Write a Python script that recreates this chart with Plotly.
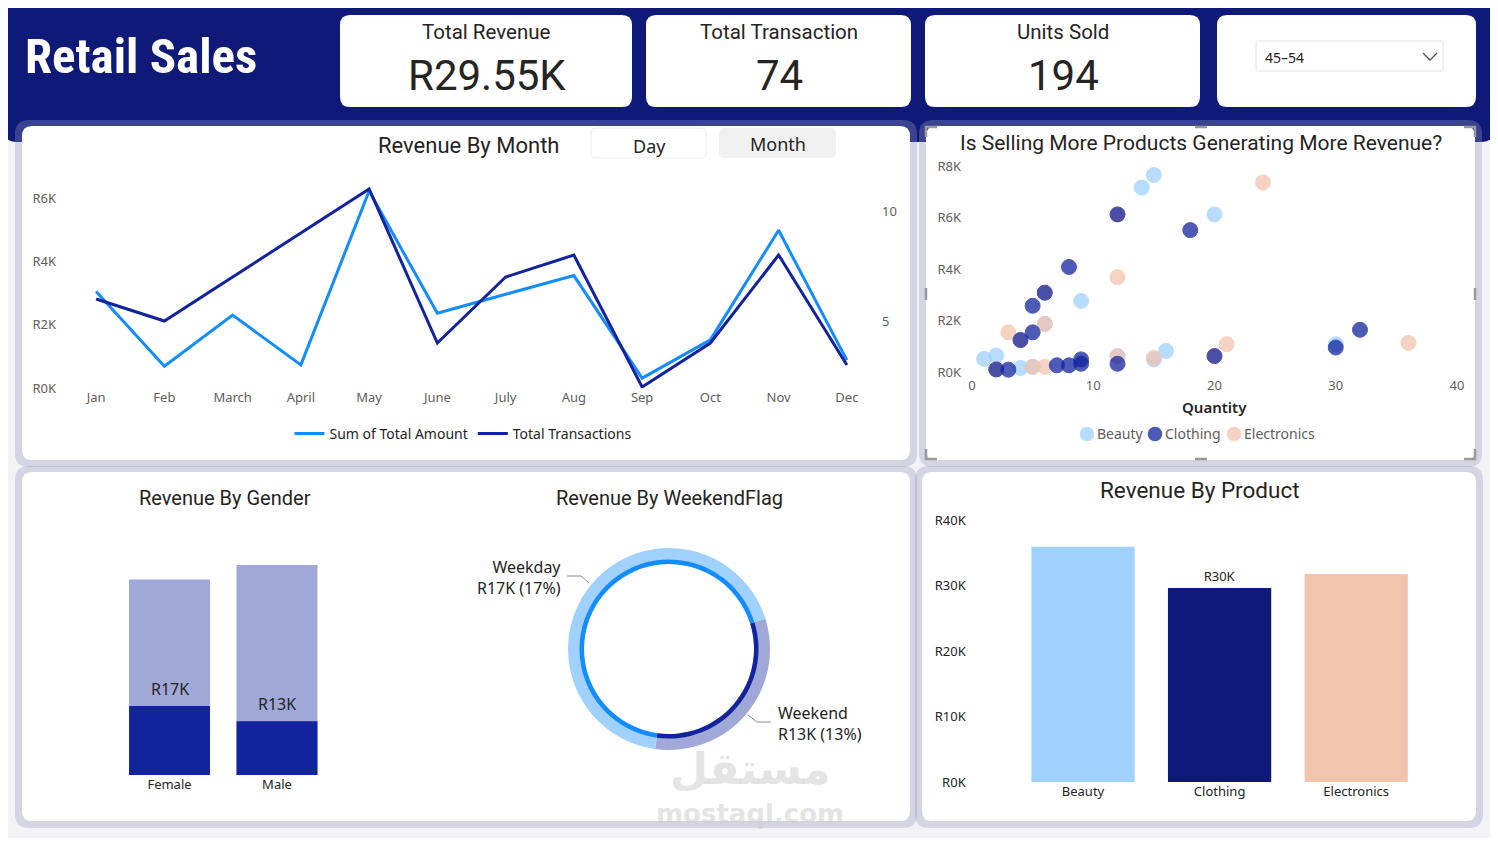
import plotly.graph_objects as go

# ---- data ----
months = ["Jan", "Feb", "March", "April", "May", "June",
          "July", "Aug", "Sep", "Oct", "Nov", "Dec"]
month_amount = [3050, 690, 2300, 730, 6220, 2360, 2960, 3550, 310, 1520, 4980, 880]
month_transactions = [6, 5, 7, 9, 11, 4, 7, 8, 2, 4, 8, 3]
units_sold = 194
age_group = "45–54"

beauty_qty = [15, 14, 20, 9, 16, 1, 2, 4, 30, 15, 6, 12, 5]
beauty_rev = [7650, 7160, 6120, 2760, 820, 510, 640, 160, 1080, 490, 1870, 620, 200]
clothing_qty = [18, 8, 5, 5, 32, 30, 12, 9, 9, 8, 7, 3, 12, 6, 4, 2, 20]
clothing_rev = [5510, 4080, 2570, 1540, 1640, 950, 320, 490, 320, 260, 260, 90, 6120, 3080, 1240, 100, 620]
electronics_qty = [24, 12, 3, 21, 36, 5, 6, 15, 6, 12, 12, 6, 4, 2, 20]
electronics_rev = [7360, 3680, 1540, 1080, 1130, 200, 200, 550, 1870, 620, 6120, 3080, 1240, 100, 620]

genders = ["Female", "Male"]
gender_total = [47000, 50500]
gender_selected = [16600, 12950]

weekend_flags = ["Weekend", "Weekday"]
weekend_total = [31200, 66200]
weekend_selected = [12950, 16600]

products = ["Beauty", "Clothing", "Electronics"]
product_revenue = [35900, 29600, 31750]

# ---- page geometry (pixels of the 1498x846 page; body keeps its 8px margin) ----
OFF = 8
W, H = 1498 - 2 * OFF, 846 - 2 * OFF
NAVY = "#0f1a78"
BLUE = "#118DFF"
DARK = "#12239E"
TXT = "#252423"
GREY = "#605e5c"
TITLE_FONT = "Roboto"
UI_FONT = "Noto Sans"
product_colors = {"Beauty": "#A0D1FF", "Clothing": DARK, "Electronics": "#F4C3AE"}


def X(x):
    return (x - OFF) / W


def Y(y):
    return 1 - (y - OFF) / H


def rrect(x0, y0, x1, y1, r):
    """Rounded rectangle path in paper coords from pixel box."""
    return (f"M {X(x0 + r)},{Y(y0)} L {X(x1 - r)},{Y(y0)} Q {X(x1)},{Y(y0)} {X(x1)},{Y(y0 + r)} "
            f"L {X(x1)},{Y(y1 - r)} Q {X(x1)},{Y(y1)} {X(x1 - r)},{Y(y1)} "
            f"L {X(x0 + r)},{Y(y1)} Q {X(x0)},{Y(y1)} {X(x0)},{Y(y1 - r)} "
            f"L {X(x0)},{Y(y0 + r)} Q {X(x0)},{Y(y0)} {X(x0 + r)},{Y(y0)} Z")


shapes = []
annotations = []


def box(x0, y0, x1, y1, r, fill, line=None, lw=0):
    shapes.append(dict(type="path", path=rrect(x0, y0, x1, y1, r), xref="paper", yref="paper",
                       fillcolor=fill, line=dict(color=line or fill, width=lw), layer="below"))


def seg(points, color, width=1):
    path = "M " + " L ".join(f"{X(a)},{Y(b)}" for a, b in points)
    shapes.append(dict(type="path", path=path, xref="paper", yref="paper",
                       line=dict(color=color, width=width)))


def label(text, x, y, size, color=TXT, family=UI_FONT, xanchor="center", weight=None, align="center"):
    font = dict(size=size, color=color, family=family)
    if weight:
        font["weight"] = weight
    annotations.append(dict(text=text, x=X(x), y=Y(y), xref="paper", yref="paper", align=align,
                            xanchor=xanchor, yanchor="middle", showarrow=False, font=font))


# header band and panel shadows
box(4, 4, 1494, 142, 12, NAVY)
for (a, b, c, d) in [(22, 126, 910, 460), (926, 126, 1475, 460), (22, 472, 910, 821), (922, 472, 1476, 821)]:
    box(a - 7, b - 6, c + 7, d + 7, 14, "rgba(150,150,190,0.33)")
    box(a, b, c, d, 10, "white")

# KPI cards
cards = [(340, 632), (646, 911), (925, 1200), (1217, 1476)]
for a, c in cards:
    box(a, 15, c, 107, 10, "white")

label("<b>Retail Sales</b>", 23, 56, 49, "white", "Liberation Sans Narrow, Roboto Condensed, Roboto", "left")
kpis = [("Total Revenue", f"R{sum(month_amount) / 1000:.2f}K"),
        ("Total Transaction", f"{sum(month_transactions)}"),
        ("Units Sold", f"{units_sold}")]
for (a, c), (name, val) in zip(cards, kpis):
    label(name, (a + c) / 2, 32, 20.5, TXT, TITLE_FONT)
    label(val, (a + c) / 2 + 1, 76, 42, TXT, TITLE_FONT)

# slicer dropdown
box(1256, 41, 1443, 71, 1, "white", "#e3e3e3", 1)
label(age_group, 1263, 58, 14, TXT, UI_FONT, "left")
seg([(1423, 53), (1430, 60), (1437, 53)], "#555", 1.3)

# line chart header
label("Revenue By Month", 468, 145, 22, TXT, TITLE_FONT)
box(591, 128, 706, 158, 5, "white", "#ececec", 1)
box(719, 128, 836, 158, 5, "#f1f1f1")
label("Day", 649, 146, 18, TXT, UI_FONT)
label("Month", 778, 144, 18, TXT, UI_FONT)

# scatter panel selection marks
for pts in [[(926, 137), (926, 127), (937, 127)], [(1464, 127), (1475, 127), (1475, 137)],
            [(926, 449), (926, 459), (937, 459)], [(1464, 459), (1475, 459), (1475, 449)],
            [(1195, 127), (1207, 127)], [(1195, 459), (1207, 459)],
            [(926, 288), (926, 300)], [(1475, 288), (1475, 300)]]:
    seg(pts, "#9a9a9a", 2.5)
label("Is Selling More Products Generating More Revenue?", 1201, 143, 21, TXT, TITLE_FONT)
label("Quantity", 1214, 407, 15, TXT, UI_FONT, weight=600)

# scatter legend (compact, Power BI style)
legend_pos = {"Beauty": 1087, "Clothing": 1155, "Electronics": 1234}
for name, lx in legend_pos.items():
    col = product_colors[name]
    shapes.append(dict(type="circle", xref="paper", yref="paper", x0=X(lx - 6.5), x1=X(lx + 6.5),
                       y0=Y(434 + 6.5), y1=Y(434 - 6.5), fillcolor=col, opacity=0.75,
                       line=dict(color=col, width=1.5)))
    label(name, lx + 8, 434, 14, GREY, UI_FONT, "left")

# bottom titles
label("Revenue By Gender", 225, 498, 20, TXT, TITLE_FONT)
label("Revenue By WeekendFlag", 669, 498, 20, TXT, TITLE_FONT)
label("Revenue By Product", 1200, 490, 22.5, TXT, TITLE_FONT)

fig = go.Figure()

# ---- line chart ----
fig.add_trace(go.Scatter(x=months, y=month_amount, mode="lines", name="Sum of Total Amount",
                         line=dict(color=BLUE, width=3), xaxis="x", yaxis="y"))
fig.add_trace(go.Scatter(x=months, y=month_transactions, mode="lines", name="Total Transactions",
                         line=dict(color=DARK, width=3), xaxis="x", yaxis="y2"))

# ---- scatter ----
for name, qx, rv in [("Beauty", beauty_qty, beauty_rev),
                     ("Electronics", electronics_qty, electronics_rev),
                     ("Clothing", clothing_qty, clothing_rev)]:
    col = product_colors[name]
    fig.add_trace(go.Scatter(x=qx, y=rv, mode="markers", name=name, showlegend=False,
                             marker=dict(size=15, color=col, opacity=0.75, line=dict(color=col, width=1)),
                             cliponaxis=False, xaxis="x3", yaxis="y3"))

# ---- gender bars (faded total with highlighted part) ----
fig.add_trace(go.Bar(x=genders, y=gender_total, width=0.753, marker=dict(color="#a0a8d8", line=dict(width=0)),
                     showlegend=False, xaxis="x4", yaxis="y4"))
fig.add_trace(go.Bar(x=genders, y=gender_selected, width=0.753, marker=dict(color="#12239E", line=dict(width=0)),
                     showlegend=False, xaxis="x4", yaxis="y4"))
for g, v in zip(genders, gender_selected):
    annotations.append(dict(x=g, y=v, xref="x4", yref="y4", yshift=17, showarrow=False,
                            text=f"R{round(v / 1000)}K", font=dict(size=16, color=TXT, family=UI_FONT)))

# ---- donut ----
cx, cy = 669, 649
fig.add_trace(go.Pie(labels=weekend_flags, values=weekend_total, sort=False, direction="clockwise",
                     rotation=72.6, hole=85 / 101, textinfo="none", hoverinfo="label+value",
                     marker=dict(colors=["#a0a8d8", "#A0D1FF"], line=dict(width=0)), showlegend=False,
                     domain=dict(x=[X(cx - 101), X(cx + 101)], y=[Y(cy + 101), Y(cy - 101)])))
fig.add_trace(go.Pie(labels=weekend_flags, values=weekend_total, sort=False, direction="clockwise",
                     rotation=72.6, hole=85 / 89.5, textinfo="none", hoverinfo="skip",
                     marker=dict(colors=[DARK, BLUE], line=dict(width=0)), showlegend=False,
                     domain=dict(x=[X(cx - 89.5), X(cx + 89.5)], y=[Y(cy + 89.5), Y(cy - 89.5)])))
grand = sum(weekend_total)
wk_txt = {f: f"{f}<br>R{round(v / 1000)}K ({round(v / grand * 100)}%)" for f, v in zip(weekend_flags, weekend_selected)}
label(wk_txt["Weekday"], 563, 577, 16, TXT, UI_FONT, "right", align="right")
label(wk_txt["Weekend"], 776, 723, 16, TXT, UI_FONT, "left", align="left")
seg([(567, 576), (581, 576), (589, 583)], "#8a8a8a", 1)
seg([(748, 715), (757, 722), (771, 722)], "#8a8a8a", 1)

# ---- product bars ----
fig.add_trace(go.Bar(x=products, y=product_revenue, width=0.756,
                     marker=dict(color=["#A0D1FF", "#0f1a78", "#F2C4AE"], line=dict(width=0)),
                     text=["" if p != "Clothing" else f"R{round(v / 1000)}K" for p, v in zip(products, product_revenue)],
                     textposition="outside", textfont=dict(size=13, color=TXT, family=UI_FONT),
                     cliponaxis=False, showlegend=False, xaxis="x5", yaxis="y5"))

# watermark
label("<span style='font-size:44px'><b>مستقل</b></span><br><span style='font-size:26px'><b>mostaql.com</b></span>",
      750, 786, 30, "rgba(205,205,205,0.55)", "DejaVu Sans")

tick = dict(size=13, color=GREY, family=UI_FONT)
plain = dict(showgrid=False, zeroline=False, showline=False, ticks="")

fig.update_layout(
    width=W, height=H, margin=dict(l=0, r=0, t=0, b=0, autoexpand=False),
    paper_bgcolor="#f3f3f5", plot_bgcolor="rgba(0,0,0,0)",
    barmode="overlay", shapes=shapes, annotations=annotations,
    xaxis=dict(domain=[X(62), X(881)], type="category", range=[-0.5, 11.5], tickfont=tick, anchor="y", **plain),
    yaxis=dict(domain=[Y(388), Y(175)], range=[0, 6726], tickvals=[0, 2000, 4000, 6000],
               ticktext=["R0K", "R2K", "R4K", "R6K"], ticklabelstandoff=5, tickfont=tick, anchor="x", **plain),
    yaxis2=dict(overlaying="y", side="right", range=[1.955, 11.636], tickvals=[5, 10],
                tickfont=tick, anchor="x", **plain),
    xaxis3=dict(domain=[X(972), X(1457)], range=[0, 40], tickvals=[0, 10, 20, 30, 40],
                ticklabelstandoff=4, tickfont=tick, anchor="y3", **plain),
    yaxis3=dict(domain=[Y(372), Y(166)], range=[0, 8000], tickvals=[0, 2000, 4000, 6000, 8000],
                ticktext=["R0K", "R2K", "R4K", "R6K", "R8K"], ticklabelstandoff=10,
                tickfont=tick, anchor="x3", **plain),
    xaxis4=dict(domain=[X(115.75), X(330.75)], type="category", range=[-0.5, 1.5],
                tickfont=dict(size=13, color=TXT, family=UI_FONT), anchor="y4", **plain),
    yaxis4=dict(domain=[Y(775), Y(540)], range=[0, 56490], visible=False, anchor="x4"),
    xaxis5=dict(domain=[X(1014.7), X(1424.5)], type="category", range=[-0.5, 2.5],
                tickfont=dict(size=13, color=TXT, family=UI_FONT), anchor="y5", **plain),
    yaxis5=dict(domain=[Y(782), Y(520)], range=[0, 40000], tickvals=[0, 10000, 20000, 30000, 40000],
                ticktext=["R0K", "R10K", "R20K", "R30K", "R40K"], ticklabelstandoff=48,
                tickfont=dict(size=13, color=TXT, family=UI_FONT), anchor="x5", **plain),
    legend=dict(orientation="h", x=X(463), xanchor="center", y=Y(434), yanchor="middle",
                font=dict(size=14, color=TXT, family=UI_FONT), bgcolor="rgba(0,0,0,0)", itemwidth=30),
    hovermode="closest",
)

fig.write_html("out.html", config={"displayModeBar": False})
